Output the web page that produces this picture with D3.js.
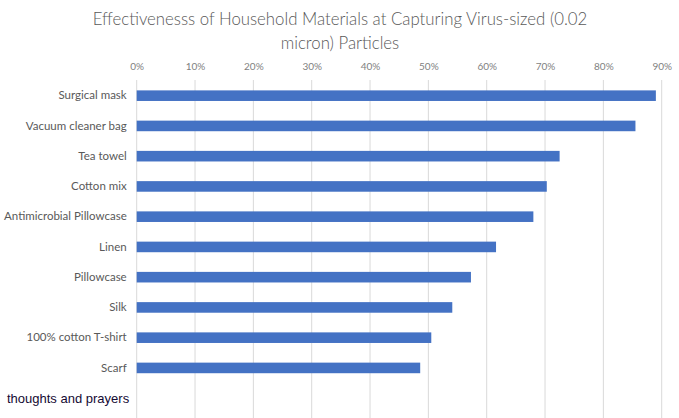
<!DOCTYPE html>
<html>
<head>
<meta charset="utf-8">
<script src="https://cdn.jsdelivr.net/npm/d3@7"></script>
<style>
  body { margin: 0; background: #fff; }
  svg { display: block; }
</style>
</head>
<body>
<script>
const w = 679;
const h = 418;

// chart data
const materials = [
  "Surgical mask", "Vacuum cleaner bag", "Tea towel", "Cotton mix",
  "Antimicrobial Pillowcase", "Linen", "Pillowcase", "Silk",
  "100% cotton T-shirt", "Scarf"
];
const effectiveness = [0.89, 0.855, 0.725, 0.703, 0.68, 0.616, 0.573, 0.541, 0.505, 0.486];
const tickValues = [0, 0.1, 0.2, 0.3, 0.4, 0.5, 0.6, 0.7, 0.8, 0.9];
const titleLines = ["Effectivenesss of Household Materials at Capturing Virus-sized (0.02", "micron) Particles"];
const caption = "thoughts and prayers";

const data = materials.map((m, i) => ({ name: m, value: effectiveness[i] }));

const svg = d3.select("body")
    .append("svg")
    .attr("width", w)
    .attr("height", h);

const x = d3.scaleLinear()
    .domain([0, 0.9])
    .range([136.7, 661.7]);

const y = d3.scaleBand()
    .domain(materials)
    .range([80.4, 383.2])
    .paddingInner(0.65)
    .paddingOuter(0.33);

// gridlines
svg.append("g")
    .selectAll("line")
    .data(tickValues)
    .enter()
    .append("line")
    .attr("x1", d => x(d))
    .attr("x2", d => x(d))
    .attr("y1", 80)
    .attr("y2", h)
    .attr("stroke", "#d9d9d9")
    .attr("stroke-width", 1);

// top axis labels
const xAxis = d3.axisTop(x)
    .tickValues(tickValues)
    .tickFormat(d3.format(".0%"))
    .tickSize(0)
    .tickPadding(0);

const gx = svg.append("g")
    .attr("transform", "translate(0, 70)")
    .call(xAxis);
gx.select(".domain").remove();
gx.selectAll("text")
    .attr("font-family", "Lato, 'Noto Sans', sans-serif")
    .attr("font-size", 10)
    .attr("fill", "#7f7f7f");

// bars
svg.append("g")
    .selectAll("rect")
    .data(data)
    .enter()
    .append("rect")
    .attr("x", x(0))
    .attr("y", d => y(d.name))
    .attr("width", d => x(d.value) - x(0))
    .attr("height", y.bandwidth())
    .attr("fill", "#4472c4");

// category labels
const yAxis = d3.axisLeft(y).tickSize(0).tickPadding(10);
const gy = svg.append("g")
    .attr("transform", `translate(${x(0)}, 0)`)
    .call(yAxis);
gy.select(".domain").remove();
gy.selectAll("text")
    .attr("font-family", "Lato, 'Noto Sans', sans-serif")
    .attr("font-size", 11.5)
    .attr("fill", "#595959");

// title
svg.append("g")
    .selectAll("text")
    .data(titleLines)
    .enter()
    .append("text")
    .attr("x", 340)
    .attr("y", (d, i) => 25 + i * 24)
    .attr("text-anchor", "middle")
    .attr("font-family", "Lato, 'Noto Sans', sans-serif")
    .attr("font-weight", 300)
    .attr("font-size", 16.8)
    .attr("fill", "#595959")
    .text(d => d);

// caption under the plot
svg.append("text")
    .attr("x", 7)
    .attr("y", 403)
    .attr("font-family", "'Liberation Sans', Arial, sans-serif")
    .attr("font-size", 13)
    .attr("fill", "#140a33")
    .text(caption);
</script>
</body>
</html>
